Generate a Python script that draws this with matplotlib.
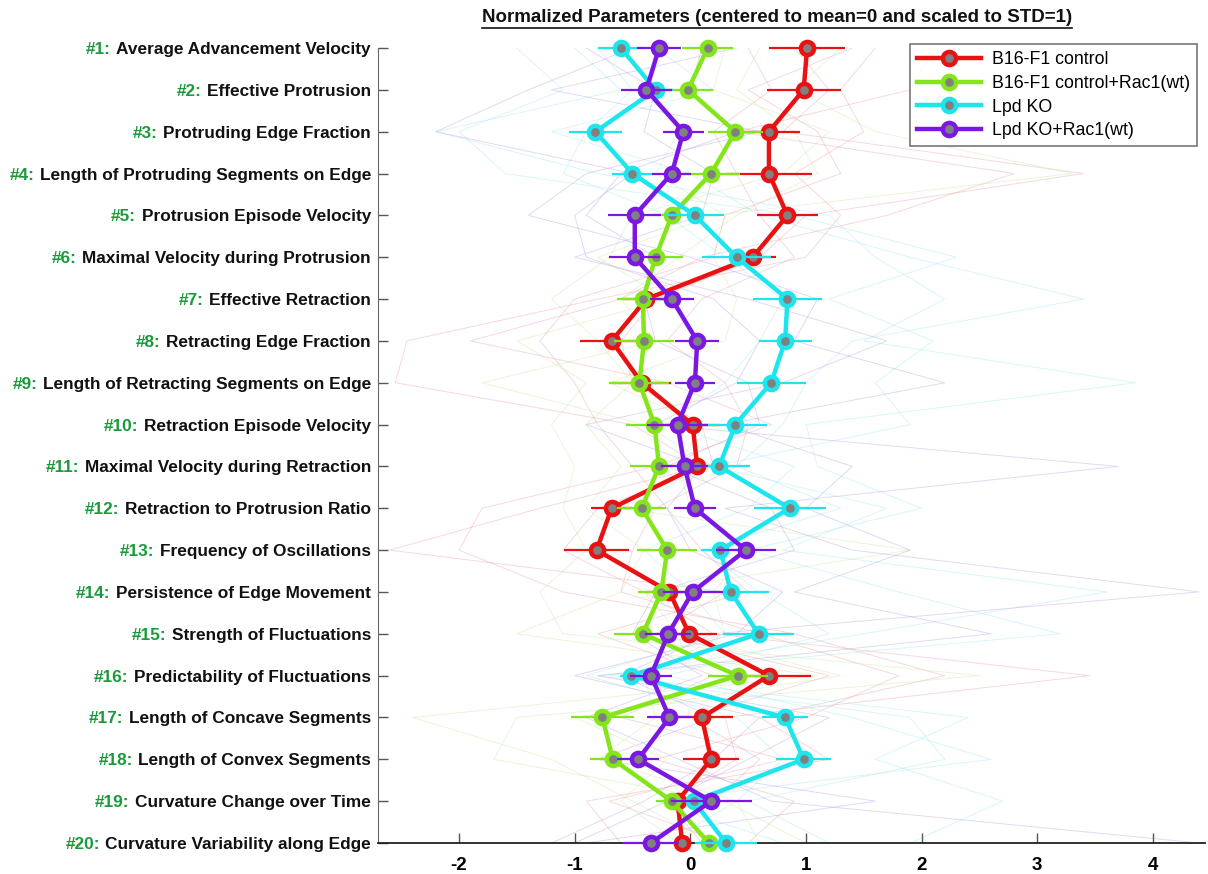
import numpy as np
import matplotlib
matplotlib.use("Agg")
import matplotlib.pyplot as plt
from matplotlib.lines import Line2D

plt.rcParams['font.family'] = ['Liberation Sans', 'DejaVu Sans']
plt.rcParams['axes.unicode_minus'] = False

# parameter names (top to bottom)
params = [
    "Average Advancement Velocity", "Effective Protrusion", "Protruding Edge Fraction",
    "Length of Protruding Segments on Edge", "Protrusion Episode Velocity",
    "Maximal Velocity during Protrusion", "Effective Retraction", "Retracting Edge Fraction",
    "Length of Retracting Segments on Edge", "Retraction Episode Velocity",
    "Maximal Velocity during Retraction", "Retraction to Protrusion Ratio",
    "Frequency of Oscillations", "Persistence of Edge Movement", "Strength of Fluctuations",
    "Predictability of Fluctuations", "Length of Concave Segments", "Length of Convex Segments",
    "Curvature Change over Time", "Curvature Variability along Edge",
]

groups = ["B16-F1 control", "B16-F1 control+Rac1(wt)", "Lpd KO", "Lpd KO+Rac1(wt)"]
colors = ["#e81212", "#84e61a", "#1ee4ee", "#7a17e3"]
faint_colors = ["#e8a0a8", "#c8e8a0", "#a0e8ec", "#b8a0e0"]

mean_ctrl = [1.01, 0.98, 0.68, 0.68, 0.84, 0.54, -0.38, -0.68, -0.42, 0.02,
             0.06, -0.68, -0.81, -0.18, -0.01, 0.68, 0.10, 0.18, -0.11, -0.07]
mean_ctrl_rac = [0.15, -0.02, 0.39, 0.18, -0.16, -0.30, -0.41, -0.40, -0.44, -0.31,
                 -0.27, -0.42, -0.20, -0.25, -0.41, 0.41, -0.76, -0.67, -0.16, 0.16]
mean_ko = [-0.60, -0.30, -0.82, -0.50, 0.04, 0.40, 0.84, 0.82, 0.70, 0.39,
           0.25, 0.86, 0.26, 0.35, 0.59, -0.51, 0.82, 0.98, 0.03, 0.31]
mean_ko_rac = [-0.27, -0.38, -0.06, -0.16, -0.48, -0.48, -0.16, 0.06, 0.04, -0.11,
               -0.05, 0.04, 0.48, 0.02, -0.19, -0.34, -0.18, -0.45, 0.18, -0.34]

err_ctrl = [0.33, 0.32, 0.27, 0.37, 0.26, 0.20, 0.20, 0.27, 0.25, 0.24,
            0.15, 0.18, 0.28, 0.20, 0.24, 0.36, 0.27, 0.24, 0.10, 0.05]
err_ctrl_rac = [0.22, 0.22, 0.24, 0.25, 0.15, 0.24, 0.22, 0.26, 0.26, 0.25,
                0.25, 0.21, 0.26, 0.20, 0.25, 0.26, 0.27, 0.20, 0.14, 0.10]
err_ko = [0.20, 0.15, 0.23, 0.18, 0.25, 0.30, 0.30, 0.23, 0.30, 0.27,
          0.27, 0.31, 0.17, 0.33, 0.31, 0.10, 0.20, 0.24, 0.15, 0.27]
err_ko_rac = [0.19, 0.22, 0.18, 0.17, 0.23, 0.22, 0.19, 0.19, 0.17, 0.26,
              0.20, 0.18, 0.26, 0.26, 0.20, 0.18, 0.19, 0.18, 0.35, 0.24]

means = [mean_ctrl, mean_ctrl_rac, mean_ko, mean_ko_rac]
errs = [err_ctrl, err_ctrl_rac, err_ko, err_ko_rac]

# a few of the faint single-cell traces in the background (estimated)
cells_ctrl = [
    [0.9, 1.2, 0.8, 3.4, 1.0, 0.6, -0.3, -0.6, -0.5, 0.1, 0.2, -0.8, -1.1, -0.4, 0.2, 3.45, 0.3, 0.4, -0.2, 0.1],
    [1.6, 1.3, 1.5, 0.9, 1.3, 1.0, -0.8, -2.45, -2.55, -0.5, 0.1, -1.3, -2.6, 0.3, -0.3, 1.2, 0.0, 0.6, 0.2, -0.4],
    [0.5, 0.7, 0.2, 0.4, 0.6, 0.9, 0.1, -0.2, 0.3, 0.5, 0.4, -0.3, -0.5, -0.6, 0.6, 1.8, 1.0, -0.3, 0.9, 0.5],
    [1.4, 0.5, 1.1, 1.3, 0.3, 0.2, -1.0, -1.3, -1.0, -0.8, -0.5, -0.2, 0.1, 0.5, -0.8, 0.2, -0.6, 0.8, -0.7, 0.3],
    [2.1, 1.9, 0.4, 2.8, 1.7, 0.1, -0.6, -1.9, -0.2, 0.7, -0.3, -1.8, -2.0, -1.1, 0.9, 2.2, 0.6, 1.2, -0.9, -0.6],
]
cells_ctrl_rac = [
    [0.3, 0.2, 1.2, 0.8, -0.5, -0.7, -1.2, -0.8, -0.5, -0.9, -0.6, -0.9, -0.4, -0.6, -1.5, 1.1, -2.4, -1.2, -0.5, 0.2],
    [-0.2, -0.4, -0.1, -0.3, 0.3, 0.2, 0.4, 0.3, -0.7, 0.1, -0.1, 0.0, 0.5, 0.2, 0.3, -0.4, -0.3, -0.8, 0.4, 0.6],
    [0.6, 0.4, 0.9, 1.1, 0.4, -0.1, -0.6, -0.3, -1.8, -0.4, 0.2, -0.6, 1.9, -0.4, -0.1, 1.3, -1.0, -0.2, -0.6, -0.1],
    [1.3, 0.9, 1.6, 3.3, 0.2, -0.8, -0.2, -1.5, -0.9, -1.2, -1.0, -1.1, -0.9, -1.3, -1.1, 2.5, -1.5, -1.7, 0.3, 1.0],
]
cells_ko = [
    [-1.0, -0.6, -2.2, -0.8, 1.2, 1.6, 2.2, 1.5, 3.85, 1.0, 1.1, 2.0, 0.5, 1.8, 3.2, -0.8, 1.9, 2.2, 0.5, 1.2],
    [-0.3, 0.2, -1.2, 0.0, 0.6, 1.9, 3.4, 1.4, 1.0, 0.8, 0.4, 1.3, 0.1, 0.6, 1.2, -0.2, 1.4, 2.6, -0.3, 0.8],
    [-0.8, -0.5, -0.9, -1.1, -0.2, 0.3, 0.8, 0.6, 0.3, -0.2, 0.9, 0.5, -0.4, 0.0, 0.3, -0.9, 0.4, 0.8, 0.4, -0.2],
    [-1.5, -1.1, -2.0, -1.6, 0.9, 2.3, 1.2, 2.1, 1.6, 1.9, 0.2, 1.7, 0.8, 3.6, 1.5, -0.7, 2.4, 1.6, 2.7, 1.9],
]
cells_ko_rac = [
    [-0.5, -1.4, -2.2, -0.5, -1.0, -0.9, 0.2, 0.6, 0.4, -0.3, 3.7, 0.3, 1.4, 4.4, 0.2, -0.6, 0.2, -0.8, 1.6, -0.9],
    [0.1, 0.0, 0.4, -0.6, -0.9, -0.3, -0.4, -0.3, 0.5, 0.6, -0.2, 0.7, 0.9, -0.3, -0.5, 0.1, -0.9, -0.1, 0.7, 4.4],
    [-0.9, -0.3, -0.4, 0.2, 0.1, -1.0, 0.5, 1.7, 0.8, -0.9, 0.1, -0.2, 0.0, 0.8, 0.4, -1.0, 0.6, 0.2, -0.4, -1.2],
    [0.4, -1.2, 0.6, -0.9, -1.4, 0.0, 1.1, 0.9, 2.2, 0.3, 1.4, 1.0, 1.9, 0.9, 2.6, -0.8, 1.2, 0.5, -0.2, -1.0],
]
cells = [cells_ctrl, cells_ctrl_rac, cells_ko, cells_ko_rac]

fig = plt.figure(figsize=(12.08, 8.74), dpi=100)
ax = fig.add_axes([378 / 1208, 1 - 843 / 874, (1205 - 378) / 1208, (843 - 48) / 874])

y = np.arange(1, len(params) + 1)

for traces, fc in zip(cells, faint_colors):
    for tr in traces:
        ax.plot(tr, y, color=fc, lw=0.7, alpha=0.4, zorder=1)

handles = []
for k, (m, e, c) in enumerate(zip(means, errs, colors)):
    ax.errorbar(m, y, xerr=e, fmt='none', ecolor=c, elinewidth=1.6, capsize=0,
                zorder=3 + 2 * k, clip_on=False)
    h, = ax.plot(m, y, '-o', color=c, lw=3.2, ms=9.5, mew=3.2, mec=c, mfc='#808080',
                 zorder=4 + 2 * k, clip_on=False, label=groups[k])
    handles.append(h)

ax.set_xlim(-2.7, 4.45)
ax.set_ylim(20, 1)
ax.set_xticks([-2, -1, 0, 1, 2, 3, 4])
ax.set_yticks(y)
ax.set_yticklabels([])
ax.tick_params(axis='x', direction='in', length=7, width=1, color='#555555',
               labelsize=13.5, pad=10)
ax.tick_params(axis='y', direction='in', length=7, width=1, color='#555555')
for lab in ax.get_xticklabels():
    lab.set_fontweight('bold')
ax.spines['top'].set_visible(False)
ax.spines['right'].set_visible(False)
ax.spines['left'].set_color('#666666')
ax.spines['bottom'].set_color('#222222')
ax.spines['bottom'].set_linewidth(1.3)

# parameter names, black part first
name_texts = []
for i, name in enumerate(params):
    t = ax.annotate(name, xy=(0, y[i]), xycoords=('axes fraction', 'data'),
                    xytext=(-5, 0), textcoords='offset points', ha='right',
                    va='center_baseline', fontsize=12.4, fontweight='bold', color='#111111')
    name_texts.append(t)

leg = fig.legend(handles=handles, loc='upper right',
                 bbox_to_anchor=(1197 / 1208, 1 - 44 / 874), bbox_transform=fig.transFigure,
                 fontsize=12.8, frameon=True, fancybox=False, borderaxespad=0,
                 handlelength=3.6, handletextpad=0.6, labelspacing=0.38, borderpad=0.4)
leg.get_frame().set_edgecolor('#555555')
leg.get_frame().set_linewidth(1.2)

title = fig.text(777 / 1208, 1 - 18 / 874,
                 "Normalized Parameters (centered to mean=0 and scaled to STD=1)",
                 ha='center', va='center', fontsize=13.5, fontweight='bold', color='#111111')

fig.canvas.draw()

# green "#n:" prefixes, placed left of each name on the same baseline
ax_left = ax.get_window_extent().x0
for i, t in enumerate(name_texts):
    x0 = t.get_window_extent().x0
    off = (x0 - ax_left) * 72.0 / fig.dpi - 4.0
    ax.annotate(f"#{i + 1}:", xy=(0, y[i]), xycoords=('axes fraction', 'data'),
                xytext=(off, 0), textcoords='offset points', ha='right',
                va='center_baseline', fontsize=12.4, fontweight='bold', color='#1a9a3a')

# underline the title
bb = title.get_window_extent()
uy = (bb.y0 - 1) / fig.bbox.height
fig.add_artist(Line2D([bb.x0 / fig.bbox.width, bb.x1 / fig.bbox.width], [uy, uy],
                      color='#111111', lw=1.2, transform=fig.transFigure))

fig.savefig('out.png', dpi=100)
